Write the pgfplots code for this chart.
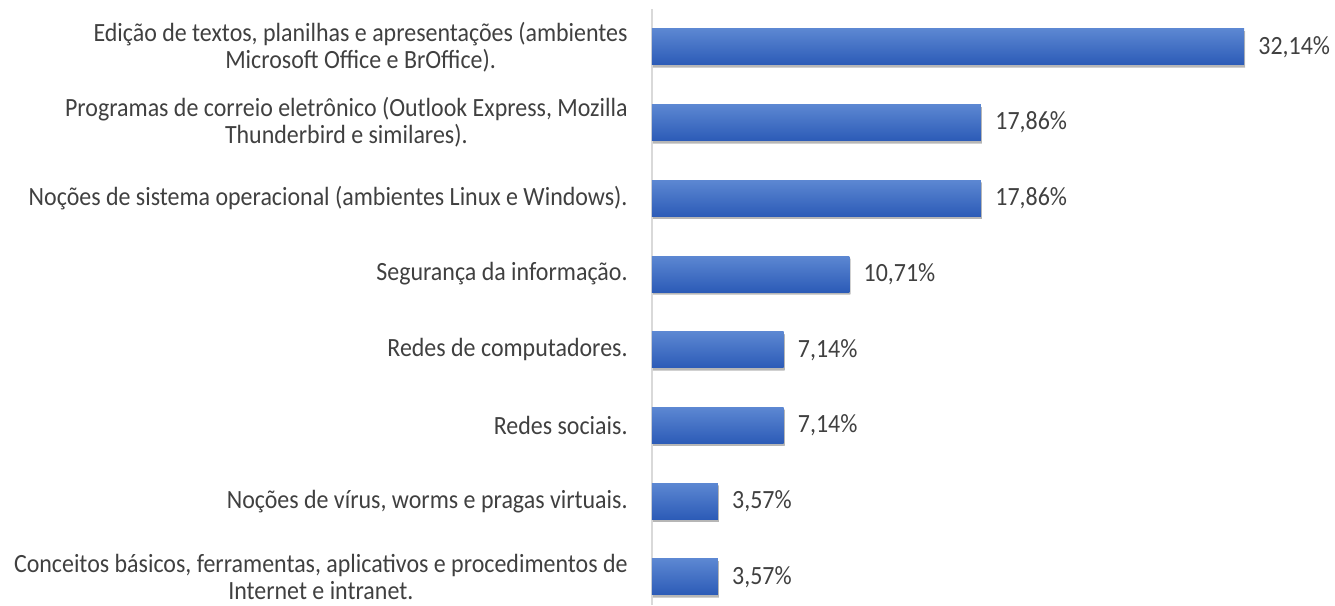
\documentclass[border=0pt]{standalone}
\usepackage{pgfplots}
\pgfplotsset{compat=1.18}
\usetikzlibrary{shadows}
\usepackage{fontspec}
\setmainfont{Carlito}[FakeStretch=0.91]
\definecolor{txt}{HTML}{404040}
\definecolor{barTop}{HTML}{5C87D2}
\definecolor{barBot}{HTML}{2C5BB7}
\definecolor{axgray}{HTML}{D9D9D9}
\pgfplotsset{
  mybar/.style={xbar, bar width=18bp, draw=none, top color=barTop, bottom color=barBot,
    drop shadow={shadow xshift=0.5bp, shadow yshift=-1.2bp, opacity=0.3, top color=black!60, bottom color=black!60}},
}
\begin{document}
\begin{tikzpicture}[x=1bp,y=1bp]
\path[use as bounding box] (-326,0) rectangle (341.5,302.5);
\begin{axis}[
  at={(0,0)}, anchor=south west,
  scale only axis,
  width=322.35bp, height=298bp,
  xmin=0, xmax=35,
  ymin=0.63, ymax=8.5,
  hide x axis,
  axis y line=left,
  y axis line style={-, draw=axgray, line width=1bp},
  ytick={1,...,8},
  yticklabels={{Conceitos básicos, ferramentas, aplicativos e procedimentos de\\Internet e intranet.},
    {Noções de vírus, worms e pragas virtuais.},
    {Redes sociais.},
    {Redes de computadores.},
    {Segurança da informação.},
    {Noções de sistema operacional (ambientes Linux e Windows).},
    {Programas de correio eletrônico (Outlook Express, Mozilla\\Thunderbird e similares).},
    {Edição de textos, planilhas e apresentações (ambientes\\Microsoft Office e BrOffice).}},
  major tick length=0pt,
  yticklabel style={align=center, text=txt, font=\fontsize{13.2}{13.5}\selectfont, inner sep=0pt, xshift=-12bp},
  clip=false,
  bar shift=0pt,
  point meta=x,
  /pgf/number format/assume math mode=true,
  nodes near coords={\pgfmathprintnumber[fixed,fixed zerofill,precision=2,use comma]{\pgfplotspointmeta}\%},
  nodes near coords style={anchor=west, text=txt, font=\fontsize{13.2}{13.5}\selectfont, inner sep=0pt, xshift=7bp},
]
\addplot[mybar] coordinates {(3.57,1)};
\addplot[mybar] coordinates {(3.57,2)};
\addplot[mybar] coordinates {(7.14,3)};
\addplot[mybar] coordinates {(7.14,4)};
\addplot[mybar] coordinates {(10.71,5)};
\addplot[mybar] coordinates {(17.86,6)};
\addplot[mybar] coordinates {(17.86,7)};
\addplot[mybar] coordinates {(32.14,8)};
\end{axis}
\end{tikzpicture}
\end{document}
